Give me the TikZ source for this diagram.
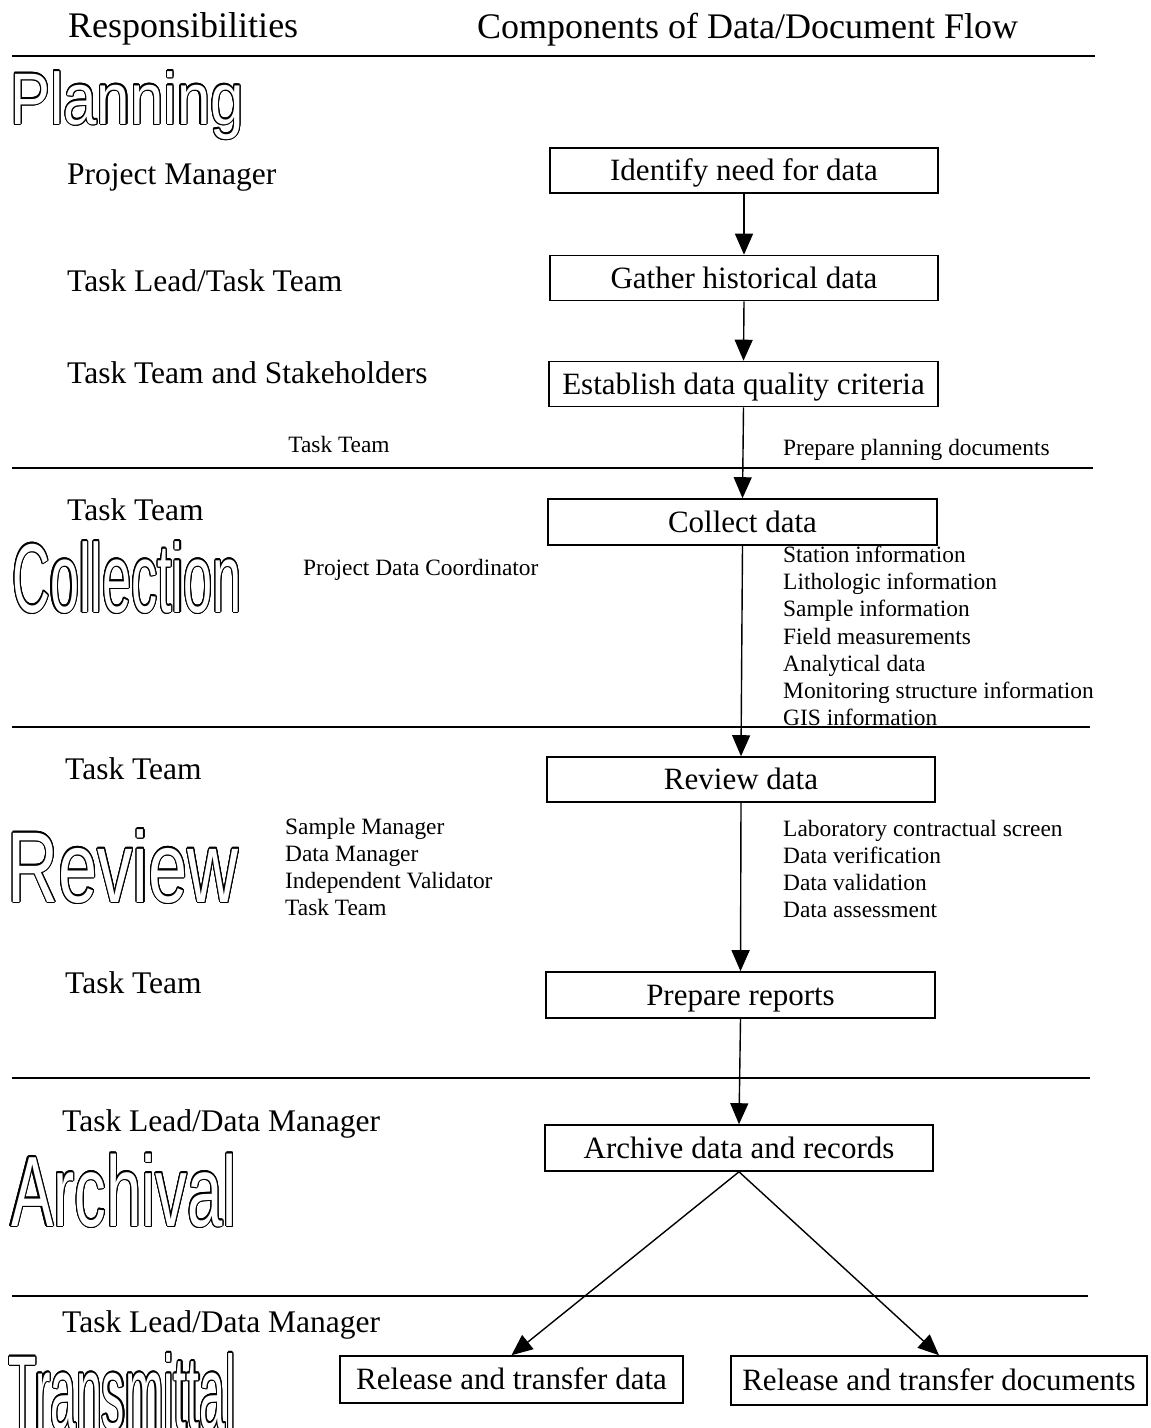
\documentclass[tikz,border=0pt]{standalone}
\usepackage{fontspec}
\setmainfont{Liberation Serif}
\newfontfamily\olfont{Liberation Sans}
\usetikzlibrary{arrows.meta}
\newcommand\bigtxt{\fontsize{31.5}{36}\selectfont}
\newcommand\boxtxt{\fontsize{31}{36}\selectfont}
\newcommand\smtxt{\fontsize{23.4}{28}\selectfont}
\newcommand\hdtxt{\fontsize{36}{42}\selectfont}
\newcommand\olword[6]{%
  \foreach \a [count=\k] in {0,22.5,...,337.5}
    \node[olbase, text=black, shift={(\a:1.2)}] (#1-\k) at (#2,#3) {\scalebox{#4}[#5]{\olfont\fontsize{10}{12}\selectfont #6}};
  \node[olbase, text=white] (#1) at (#2,#3) {\scalebox{#4}[#5]{\olfont\fontsize{10}{12}\selectfont #6}};
}
\begin{document}
\begin{tikzpicture}[x=1pt,y=-1pt,
  box/.style={draw, line width=1.6pt, inner sep=0pt, font=\boxtxt, text height=21pt, text depth=1pt, minimum width=388pt, minimum height=45pt},
  lab/.style={anchor=base west, inner sep=0pt, font=\bigtxt},
  hd/.style={anchor=base west, inner sep=0pt, font=\hdtxt},
  sml/.style={anchor=base west, inner sep=0pt, font=\smtxt},
  sep/.style={line width=1.6pt},
  flow/.style={line width=1.4pt, -{Triangle[width=18pt,length=21pt]}},
  olbase/.style={anchor=base west, inner sep=0pt, outer sep=0pt}]
\useasboundingbox (0,0) rectangle (1151,1428);
\fill[white] (0,0) rectangle (1151,1428);
\clip (0,0) rectangle (1151,1428);

% header
\node[hd] (hresp) at (68,37) {Responsibilities};
\node[hd] (hcomp) at (477,38) {Components of Data/Document Flow};
\draw[sep] (12,56) -- (1095,56);

% section separators
\draw[sep] (12,468) -- (1093,468);
\draw[sep] (12,727) -- (1090,727);
\draw[sep] (12,1078) -- (1090,1078);
\draw[sep] (12,1296) -- (1088,1296);

% outlined section titles
\olword{tplan}{10.3}{124}{6.0}{7.3}{Planning}
\olword{tcoll}{12.4}{612}{5.22}{9.78}{Collection}
\olword{trev}{7.5}{902}{7.05}{10.06}{Review}
\olword{tarch}{11}{1226}{6.35}{10.0}{Archival}
\olword{ttran}{8.5}{1429}{4.63}{10.5}{Transmittal}

% flow boxes
\node[box] (idn) at (744,170.5) {Identify need for data};
\node[box] (gat) at (744,278) {Gather historical data};
\node[box, minimum width=389pt] (est) at (743.5,384) {Establish data quality criteria};
\node[box, minimum width=389pt, minimum height=46pt] (col) at (742.5,522) {Collect data};
\node[box] (rev) at (741,779.5) {Review data};
\node[box, minimum width=389pt, minimum height=46pt] (prep) at (740.5,995) {Prepare reports};
\node[box, minimum height=46pt] (arch) at (739,1148) {Archive data and records};
\node[box, minimum width=343pt, minimum height=47pt] (rel1) at (511.5,1379.5) {Release and transfer data};
\node[box, minimum width=416pt, minimum height=49pt] (rel2) at (939,1380.5) {Release and transfer documents};

% connectors
\draw[flow] (idn.south) -- (gat.north);
\draw[flow] (gat.south) -- (est.north);
\draw[flow] (est.south) -- (col.north);
\draw[flow] (col.south) -- (rev.north);
\draw[flow] (rev.south) -- (prep.north);
\draw[flow] (prep.south) -- (arch.north);
\draw[flow] (arch.south) -- (rel1.north);
\draw[flow] (arch.south) -- (rel2.north);

% responsibilities
\node[lab] (r1) at (67,184) {Project Manager};
\node[lab] (r2) at (67,291) {Task Lead/Task Team};
\node[lab] (r3) at (67,383) {Task Team and Stakeholders};
\node[sml, anchor=base] (r4) at (339,452) {Task Team};
\node[lab] (r5) at (67,520) {Task Team};
\node[sml] (r6) at (303,575) {Project Data Coordinator};
\node[lab] (r7) at (65,779) {Task Team};
\node[sml] (r8a) at (285,834) {Sample Manager};
\node[sml] (r8b) at (285,861) {Data Manager};
\node[sml] (r8c) at (285,888) {Independent Validator};
\node[sml] (r8d) at (285,915) {Task Team};
\node[lab] (r9) at (65,993) {Task Team};
\node[lab] (r10) at (62,1131) {Task Lead/Data Manager};
\node[lab] (r11) at (62,1332) {Task Lead/Data Manager};

% components notes
\node[sml] (c1) at (783,455) {Prepare planning documents};
\node[sml] (c2a) at (783,562) {Station information};
\node[sml] (c2b) at (783,589) {Lithologic information};
\node[sml] (c2c) at (783,616) {Sample information};
\node[sml] (c2d) at (783,644) {Field measurements};
\node[sml] (c2e) at (783,671) {Analytical data};
\node[sml] (c2f) at (783,698) {Monitoring structure information};
\node[sml] (c2g) at (783,725) {GIS information};
\node[sml] (c3a) at (783,836) {Laboratory contractual screen};
\node[sml] (c3b) at (783,863) {Data verification};
\node[sml] (c3c) at (783,890) {Data validation};
\node[sml] (c3d) at (783,917) {Data assessment};
\end{tikzpicture}
\end{document}
